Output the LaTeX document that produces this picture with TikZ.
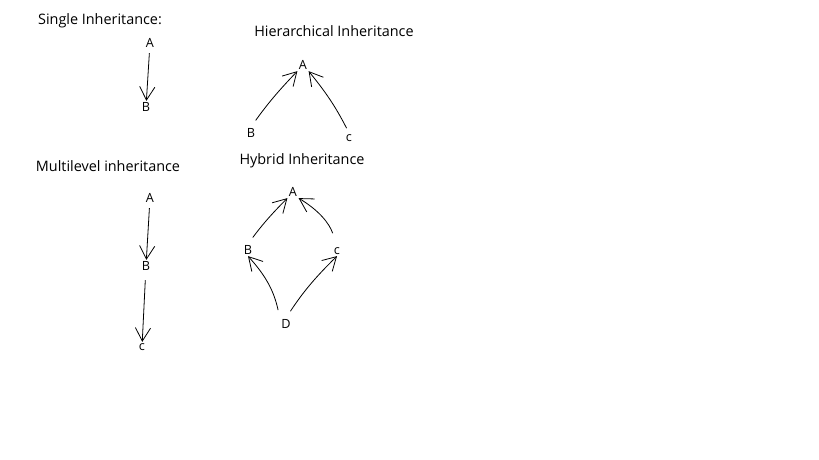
\documentclass[tikz,border=0pt]{standalone}
\usepackage{fontspec}
\setmainfont{Open Sans}
\usetikzlibrary{positioning}
\usetikzlibrary{arrows.meta}

\begin{document}
\begin{tikzpicture}[x=0.75pt,y=-0.75pt,
  every node/.style={font=\fontsize{9.5}{11}\selectfont,inner sep=1pt},
  title/.style={font=\fontsize{10.8}{12}\selectfont},
  edge/.style={line width=0.6pt,-{Straight Barb[length=3.5mm,width=4mm]}}]
\useasboundingbox (0,0) rectangle (819,460);

% single
\node[title](single) at (100,21){Single Inheritance:};
\node(sA) at (150,43){A};
\node(sB) at (146,107){B};
\draw[edge,shorten <=3pt] (sA) -- (sB);

% hierarchical
\node[title](hier) at (334,31){Hierarchical Inheritance};
\node(hA) at (303,65){A};
\node(hB) at (251,133){B};
\node(hC) at (349,138){c};
\draw[edge,shorten <=6pt] (hB.north) to[bend left=4] (hA.south west);
\draw[edge,shorten <=4pt] (hC.north) to[bend right=6] (hA.south east);

% multilevel
\node[title](multi) at (108,166){Multilevel inheritance};
\node(mA) at (150,198){A};
\node(mB) at (146,266){B};
\node(mC) at (142,347){c};
\draw[edge,shorten <=3pt] (mA) -- (mB);
\draw[edge,shorten <=6pt] (mB) -- (mC);

% hybrid
\node[title](hybrid) at (302,161){Hybrid Inheritance};
\node(yA) at (293,192){A};
\node(yB) at (248,250){B};
\node(yC) at (337,251){c};
\node(yD) at (286,324){D};
\draw[edge,shorten <=6pt] (yB.north) to[bend left=4] (yA.south west);
\draw[edge,shorten <=10pt] (yC.north) to[bend right=20] (yA.south east);
\draw[edge,shorten <=6pt] (yD.north west) to[bend right=15] (yB.south);
\draw[edge,shorten <=6pt] (yD.north) to[bend left=6] (yC.south);

\end{tikzpicture}
\end{document}
